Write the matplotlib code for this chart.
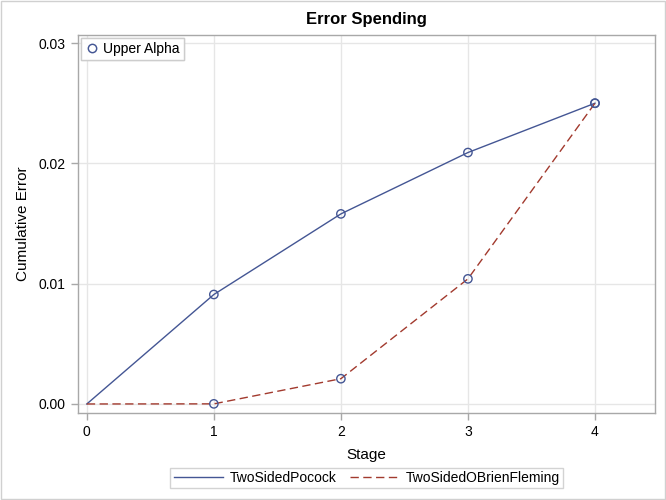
import matplotlib
matplotlib.use("Agg")
import matplotlib.pyplot as plt
from matplotlib.lines import Line2D

plt.rcParams['font.family'] = ['Liberation Sans', 'DejaVu Sans']

stages = [0, 1, 2, 3, 4]
pocock = [0.0, 0.0091, 0.0158, 0.0209, 0.0250]
obf = [0.0, 0.00001, 0.0021, 0.0104, 0.0250]
xticks = [0, 1, 2, 3, 4]
yticks = [0.00, 0.01, 0.02, 0.03]
ytick_labels = ["0.00", "0.01", "0.02", "0.03"]

blue = "#445694"
red = "#A23A2E"
grid_c = "#E6E6E6"
spine_c = "#A8A8A8"
text_c = "#000000"
dash = (6, 3.2)

fig = plt.figure(figsize=(6.66, 5.0), dpi=100)
fig.patch.set_facecolor("white")
ax = fig.add_axes([0.117, 0.174, 0.866, 0.756])

ax.plot(stages, pocock, color=blue, lw=1.0, zorder=3)
ax.plot(stages, obf, color=red, lw=1.0, dashes=dash, zorder=3)
ax.scatter(stages[1:], pocock[1:], s=36, facecolors="none", edgecolors=blue, linewidths=1.0, zorder=4)
ax.scatter(stages[1:], obf[1:], s=36, facecolors="none", edgecolors=blue, linewidths=1.0, zorder=4)

ax.set_xlim(-0.07, 4.47)
ax.set_ylim(-0.00075, 0.03067)
ax.set_xticks(xticks)
ax.set_yticks(yticks)
ax.set_yticklabels(ytick_labels)
ax.grid(True, color=grid_c, lw=1.0, zorder=0)
ax.set_axisbelow(True)
for s in ax.spines.values():
    s.set_color(spine_c)
    s.set_linewidth(1.0)
ax.tick_params(axis="both", colors=spine_c, labelcolor=text_c, labelsize=10, length=5, width=1.0, pad=4)

ax.set_xlabel("Stage", fontsize=11, labelpad=6)
ax.set_ylabel("Cumulative Error", fontsize=11, labelpad=6)
ax.set_title("Error Spending", fontsize=12, fontweight="bold", pad=8)

# inset legend
h_in = Line2D([], [], linestyle="none", marker="o", markersize=6, markerfacecolor="none",
              markeredgecolor=blue, markeredgewidth=1.0)
leg1 = ax.legend([h_in], ["Upper Alpha"], loc="upper left", fontsize=10, frameon=True,
                 fancybox=False, edgecolor="#C8C8C8", borderpad=0.3, handletextpad=0.3,
                 handlelength=1.0, borderaxespad=0.2)
leg1.get_frame().set_linewidth(1.0)
ax.add_artist(leg1)

# bottom legend
h1 = Line2D([], [], color=blue, lw=1.0)
h2 = Line2D([], [], color=red, lw=1.0, dashes=dash)
leg2 = fig.legend([h1, h2], ["TwoSidedPocock", "TwoSidedOBrienFleming"], loc="center",
                  bbox_to_anchor=(0.551, 0.044), ncol=2, fontsize=10, frameon=True, fancybox=False,
                  edgecolor="#C8C8C8", borderpad=0.25, handlelength=3.5, handletextpad=0.5,
                  columnspacing=1.0)
leg2.get_frame().set_linewidth(1.0)

# outer border
fig.add_artist(plt.Rectangle((0.0015, 0.002), 0.997, 0.996, transform=fig.transFigure,
                             fill=False, edgecolor="#D0D0D0", lw=1.0))

fig.savefig("out.png", dpi=100)
